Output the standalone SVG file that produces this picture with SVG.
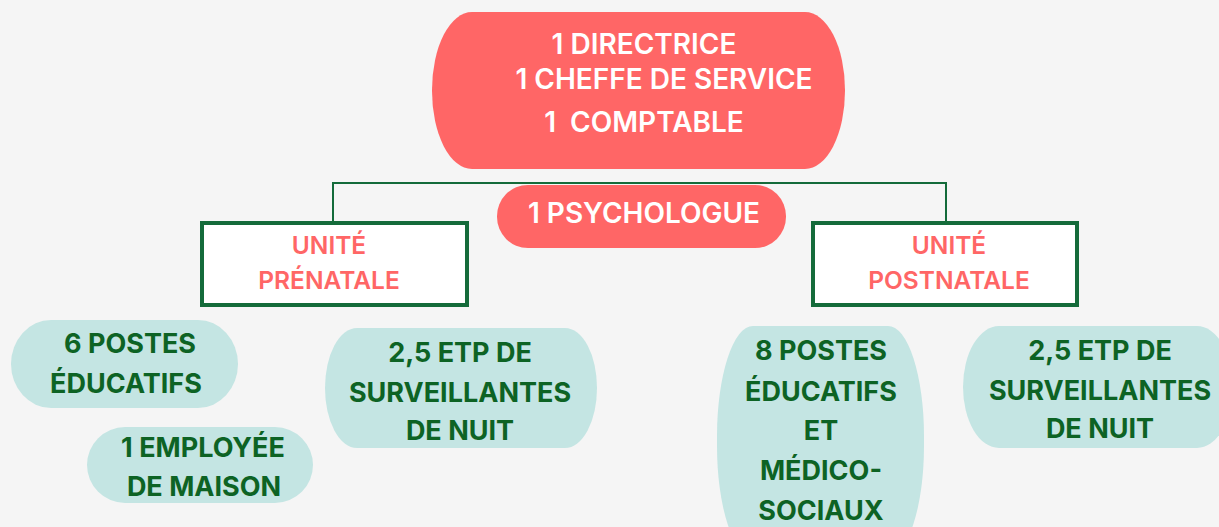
<svg xmlns="http://www.w3.org/2000/svg" width="1219" height="527" viewBox="0 0 1219 527">
<style>
.bg{fill:#F5F5F5}
.red{fill:#FF6666}
.teal{fill:#C4E5E3}
.unit{fill:#FFFFFF;stroke:#146B3A;stroke-width:4}
.conn{fill:none;stroke:#146B3A;stroke-width:2}
.tw{font-family:Inter,"Open Sans",sans-serif;font-weight:600;fill:#FFFFFF;text-anchor:middle;font-size:28px}
.tr{font-family:Inter,"Open Sans",sans-serif;font-weight:600;fill:#FF6666;text-anchor:middle;font-size:24.5px}
.tg{font-family:Inter,"Open Sans",sans-serif;font-weight:700;fill:#0D6324;text-anchor:middle;font-size:27px}
</style>
<rect class="bg" x="0" y="0" width="1219" height="527"/>
<g id="connectors">
<polyline class="conn" points="333,222 333,183 946,183 946,222"/>
</g>
<g id="direction">
<rect class="red" x="432" y="12" width="413" height="157" rx="40" ry="78"/>
<text class="tw" x="644" y="54">1 DIRECTRICE</text>
<text class="tw" x="664" y="89">1 CHEFFE DE SERVICE</text>
<text class="tw" x="644" y="132" xml:space="preserve">1  COMPTABLE</text>
</g>
<g id="psychologue">
<rect class="red" x="497" y="185" width="289" height="63" rx="31" ry="31"/>
<text class="tw" x="644" y="223">1 PSYCHOLOGUE</text>
</g>
<g id="unite-prenatale">
<rect class="unit" x="202" y="223" width="265" height="82"/>
<text class="tr" x="329" y="254">UNITÉ</text>
<text class="tr" x="329" y="289">PRÉNATALE</text>
</g>
<g id="unite-postnatale">
<rect class="unit" x="813" y="223" width="264" height="82"/>
<text class="tr" x="949" y="254">UNITÉ</text>
<text class="tr" x="949" y="289">POSTNATALE</text>
</g>
<g id="postes-educatifs-pre">
<rect class="teal" x="11" y="320" width="227" height="88" rx="40" ry="44"/>
<text class="tg" x="130" y="353">6 POSTES</text>
<text class="tg" x="126" y="393">ÉDUCATIFS</text>
</g>
<g id="employee-maison">
<rect class="teal" x="87" y="427" width="226" height="76" rx="38" ry="38"/>
<text class="tg" x="203" y="457">1 EMPLOYÉE</text>
<text class="tg" x="204" y="496">DE MAISON</text>
</g>
<g id="surveillantes-pre">
<rect class="teal" x="325" y="328" width="272" height="120" rx="32" ry="60"/>
<text class="tg" x="460" y="362">2,5 ETP DE</text>
<text class="tg" x="460" y="402">SURVEILLANTES</text>
<text class="tg" x="460" y="440">DE NUIT</text>
</g>
<g id="postes-educatifs-post">
<rect class="teal" x="717" y="326" width="207" height="230" rx="36" ry="110"/>
<text class="tg" x="821" y="360">8 POSTES</text>
<text class="tg" x="821" y="401">ÉDUCATIFS</text>
<text class="tg" x="821" y="440">ET</text>
<text class="tg" x="821" y="480">MÉDICO-</text>
<text class="tg" x="821" y="520">SOCIAUX</text>
</g>
<g id="surveillantes-post">
<rect class="teal" x="963" y="326" width="270" height="122" rx="36" ry="61"/>
<text class="tg" x="1100" y="360">2,5 ETP DE</text>
<text class="tg" x="1100" y="400">SURVEILLANTES</text>
<text class="tg" x="1100" y="438">DE NUIT</text>
</g>
</svg>
